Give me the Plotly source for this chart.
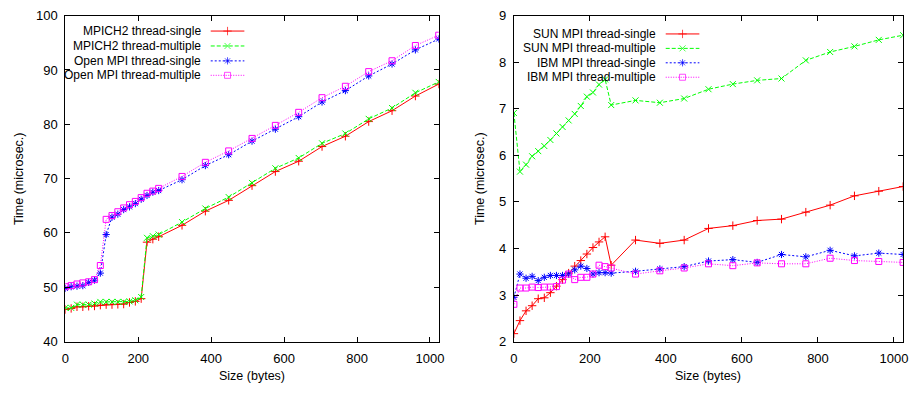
import plotly.graph_objects as go

W, H = 920, 397

# ---------------- data ----------------
sizes = [0, 16, 32, 48, 64, 80, 96, 112, 128, 144, 160, 176, 192, 208, 224, 240, 256,
         320, 384, 448, 512, 576, 640, 704, 768, 832, 896, 960, 1024]

mpich_single = [45.9, 46.1, 46.4, 46.4, 46.5, 46.55, 46.7, 46.8, 46.8, 46.85, 46.9, 47.2, 47.4, 47.9,
                58.3, 58.85, 59.3, 61.4, 64.0, 66.0, 68.7, 71.3, 73.2, 75.9, 77.8, 80.5, 82.5, 85.2, 87.4]
mpich_multiple = [46.2, 46.2, 46.8, 46.8, 46.8, 47.0, 47.3, 47.3, 47.3, 47.3, 47.3, 47.4, 47.6, 48.2,
                  59.1, 59.4, 59.7, 62.0, 64.5, 66.6, 69.2, 71.9, 73.8, 76.5, 78.3, 81.0, 83.0, 85.8, 87.8]
openmpi_single = [49.8, 50.1, 50.2, 50.3, 50.9, 51.3, 52.6, 59.7, 62.9, 63.45, 64.3, 64.8, 65.4, 66.2,
                  66.9, 67.5, 67.8, 69.8, 72.4, 74.4, 76.9, 79.1, 81.4, 84.1, 86.2, 88.9, 91.1, 93.7, 95.7]
openmpi_multiple = [50.1, 50.3, 50.6, 50.8, 51.0, 51.4, 54.0, 62.5, 63.2, 63.9, 64.6, 65.2, 65.8, 66.5,
                    67.3, 67.7, 68.2, 70.4, 73.0, 75.1, 77.4, 79.8, 82.2, 84.9, 87.0, 89.7, 91.7, 94.5, 96.4]

sun_single = [2.17, 2.45, 2.66, 2.77, 2.92, 2.94, 3.05, 3.19, 3.33, 3.47, 3.62, 3.74, 3.88, 4.02, 4.14,
              4.25, 3.64, 4.18, 4.11, 4.18, 4.43, 4.49, 4.60, 4.63, 4.78, 4.93, 5.13, 5.23, 5.33]
sun_multiple = [6.91, 5.65, 5.80, 5.98, 6.09, 6.20, 6.33, 6.47, 6.61, 6.75, 6.89, 7.06, 7.26, 7.35, 7.52,
                7.63, 7.08, 7.18, 7.13, 7.22, 7.42, 7.53, 7.61, 7.65, 8.04, 8.22, 8.34, 8.48, 8.58]
ibm_single = [2.95, 3.45, 3.36, 3.40, 3.31, 3.38, 3.42, 3.42, 3.42, 3.45, 3.54, 3.62, 3.57, 3.45, 3.48,
              3.48, 3.47, 3.51, 3.56, 3.61, 3.73, 3.76, 3.70, 3.87, 3.82, 3.96, 3.84, 3.90, 3.87]
ibm_multiple = [2.80, 3.15, 3.15, 3.17, 3.16, 3.17, 3.17, 3.18, 3.32, 3.45, 3.33, 3.38, 3.38, 3.45, 3.64,
                3.61, 3.58, 3.45, 3.52, 3.58, 3.67, 3.63, 3.69, 3.67, 3.67, 3.79, 3.74, 3.72, 3.70]

left_names = ["MPICH2 thread-single", "MPICH2 thread-multiple",
              "Open MPI thread-single", "Open MPI thread-multiple"]
right_names = ["SUN MPI thread-single", "SUN MPI thread-multiple",
               "IBM MPI thread-single", "IBM MPI thread-multiple"]
x_ticks = [0, 200, 400, 600, 800, 1000]
left_y_ticks = [40, 50, 60, 70, 80, 90, 100]
right_y_ticks = [2, 3, 4, 5, 6, 7, 8, 9]
x_title = "Size (bytes)"
y_title = "Time (microsec.)"

# ---------------- styles ----------------
styles = [
    dict(color="#ff0000", dash="solid", symbol="cross-thin-open"),
    dict(color="#00ff00", dash="4px,2px", symbol="x-thin-open"),
    dict(color="#0000ff", dash="2px,2px", symbol="asterisk-open"),
    dict(color="#ff00ff", dash="1px,1.5px", symbol="square-open"),
]
FONT = "Liberation Sans, Arial, sans-serif"
MSIZE = 6

fig = go.Figure()

left_series = [mpich_single, mpich_multiple, openmpi_single, openmpi_multiple]
right_series = [sun_single, sun_multiple, ibm_single, ibm_multiple]


def add_series(series, names, xa, ya):
    for vals, st, name in zip(series, styles, names):
        fig.add_trace(go.Scatter(
            x=sizes, y=vals, name=name, mode="lines+markers", xaxis=xa, yaxis=ya,
            line=dict(color=st["color"], width=1, dash=st["dash"]),
            marker=dict(symbol=st["symbol"], size=MSIZE, color=st["color"],
                        line=dict(color=st["color"], width=1)),
            showlegend=False))


add_series(left_series, left_names, "x", "y")
add_series(right_series, right_names, "x2", "y2")

# ---------------- gnuplot-style keys (text left, sample right) ----------------
annotations = []
key_specs = [
    (left_names, 201, 209, [25, 40.5, 56, 71]),
    (right_names, 661, 669, [28, 43, 58, 73]),
]
for names, text_right, sample_x0, rows in key_specs:
    for name, st, ry in zip(names, styles, rows):
        annotations.append(dict(
            text=name, x=text_right / W, y=1 - ry / H, xref="paper", yref="paper",
            xanchor="right", yanchor="middle", showarrow=False,
            font=dict(family=FONT, size=12, color="black")))
        x0, x1 = sample_x0, sample_x0 + 34
        fig.add_trace(go.Scatter(
            x=[x0, (x0 + x1) / 2, x1], y=[ry, ry, ry], mode="lines+markers",
            xaxis="x3", yaxis="y3", hoverinfo="skip", showlegend=False,
            line=dict(color=st["color"], width=1, dash=st["dash"]),
            marker=dict(symbol=st["symbol"], size=[0, MSIZE, 0], color=st["color"],
                        line=dict(color=st["color"], width=1))))

# axis titles
title_font = dict(family=FONT, size=12.5, color="black")
annotations += [
    dict(text=y_title, x=15 / W, y=1 - 178 / H, xref="paper", yref="paper", textangle=-90,
         showarrow=False, xanchor="center", yanchor="middle", font=title_font),
    dict(text=y_title, x=482 / W, y=1 - 178 / H, xref="paper", yref="paper", textangle=-90,
         showarrow=False, xanchor="center", yanchor="middle", font=title_font),
    dict(text=x_title, x=250.5 / W, y=1 - 384 / H, xref="paper", yref="paper",
         showarrow=False, xanchor="center", yanchor="middle", font=title_font),
    dict(text=x_title, x=712 / W, y=1 - 384 / H, xref="paper", yref="paper",
         showarrow=False, xanchor="center", yanchor="middle", font=title_font),
]

axis_common = dict(showline=True, mirror="ticks", linecolor="black", linewidth=1,
                   ticks="inside", ticklen=5, tickcolor="black", tickwidth=1,
                   showgrid=False, zeroline=False,
                   tickfont=dict(family=FONT, size=13, color="black"))

ytop = 1 - 9 / H
ybot = 1 - 347.7 / H

fig.update_layout(
    width=W, height=H, margin=dict(l=0, r=0, t=0, b=0),
    paper_bgcolor="white", plot_bgcolor="rgba(0,0,0,0)",
    showlegend=False,
    xaxis=dict(domain=[62 / W, 439.5 / W], range=[0, 1024], tickvals=x_ticks,
               anchor="y", ticklabelstandoff=5, **axis_common),
    yaxis=dict(domain=[ybot, ytop], range=[40, 100], tickvals=left_y_ticks,
               anchor="x", ticklabelstandoff=4, **axis_common),
    xaxis2=dict(domain=[515.5 / W, 909 / W], range=[0, 1024], tickvals=x_ticks,
                anchor="y2", ticklabelstandoff=5, **axis_common),
    yaxis2=dict(domain=[ybot, ytop], range=[2, 9], tickvals=right_y_ticks,
                anchor="x2", ticklabelstandoff=4, **axis_common),
    xaxis3=dict(domain=[0, 1], range=[0, W], visible=False, anchor="y3", fixedrange=True),
    yaxis3=dict(domain=[0, 1], range=[H, 0], visible=False, anchor="x3", fixedrange=True),
    annotations=annotations,
)

fig.write_html("out.html")
